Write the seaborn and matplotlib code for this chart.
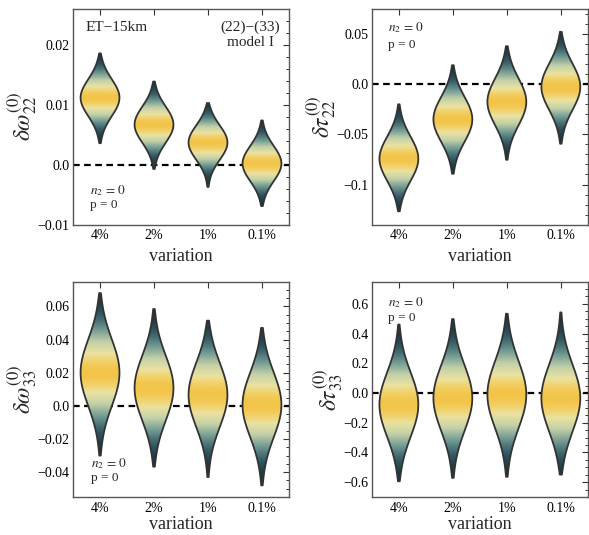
import numpy as np
import pandas as pd
import seaborn as sns
import matplotlib.pyplot as plt
from matplotlib.colors import LinearSegmentedColormap
from matplotlib.ticker import AutoMinorLocator, MultipleLocator, FuncFormatter
from statistics import NormalDist

variations = ["4%", "2%", "1%", "0.1%"]

# centre (widest point), lower tip and upper tip of each violin
w22_center = [0.0112, 0.0067, 0.0037, 0.0002]
w22_low = [0.0036, -0.0007, -0.0037, -0.0069]
w22_high = [0.0186, 0.0139, 0.0103, 0.0074]

t22_center = [-0.0743, -0.0350, -0.0175, -0.0025]
t22_low = [-0.1267, -0.0893, -0.0753, -0.0593]
t22_high = [-0.0200, 0.0190, 0.0380, 0.0523]

w33_center = [0.0200, 0.0107, 0.0066, 0.0006]
w33_low = [-0.0300, -0.0367, -0.0430, -0.0480]
w33_high = [0.0680, 0.0584, 0.0514, 0.0470]

t33_center = [-0.078, -0.034, -0.011, -0.034]
t33_low = [-0.594, -0.571, -0.564, -0.549]
t33_high = [0.460, 0.497, 0.533, 0.542]


def violin_table(center, low, high, n=400):
    # evenly spaced quantiles of a gaussian truncated at the drawn tips
    rows = []
    for lab, c, lo, hi in zip(variations, center, low, high):
        nd = NormalDist(c, (hi - lo) / 5.0)
        for q in np.linspace(nd.cdf(lo), nd.cdf(hi), n):
            rows.append((lab, nd.inv_cdf(min(max(q, 1e-12), 1 - 1e-12))))
    return pd.DataFrame(rows, columns=["variation", "value"])


def tick_fmt(v, pos):
    if abs(v) < 1e-12:
        return "0.0"
    return f"{v:g}".replace("-", "\u2212")


panels = [
    (violin_table(w22_center, w22_low, w22_high), r"$\delta\omega_{22}^{(0)}$", (-0.01, 0.026), 0.01),
    (violin_table(t22_center, t22_low, t22_high), r"$\delta\tau_{22}^{(0)}$", (-0.14, 0.075), 0.05),
    (violin_table(w33_center, w33_low, w33_high), r"$\delta\omega_{33}^{(0)}$", (-0.055, 0.075), 0.02),
    (violin_table(t33_center, t33_low, t33_high), r"$\delta\tau_{33}^{(0)}$", (-0.7, 0.75), 0.2),
]

cmap = LinearSegmentedColormap.from_list(
    "violin",
    [(0.0, "#142329"), (0.2, "#2f5560"), (0.42, "#6f9892"),
     (0.65, "#c2d0a8"), (0.85, "#ebe2a0"), (0.95, "#f2d066"), (1.0, "#f2c54a")])

sns.set_style("white")
plt.rcParams["font.family"] = ["Liberation Serif", "DejaVu Serif"]
plt.rcParams["mathtext.fontset"] = "stix"

fig, axes = plt.subplots(2, 2, figsize=(5.89, 5.35), dpi=100)
fig.subplots_adjust(left=0.124, right=0.998, top=0.983, bottom=0.071,
                    wspace=0.384, hspace=0.264)

for i, (ax, (df, ylabel, ylim, major)) in enumerate(zip(axes.flat, panels)):
    sns.violinplot(data=df, x="variation", y="value", order=variations, ax=ax,
                   inner=None, cut=0, density_norm="width", width=0.72,
                   bw_adjust=0.8, color="white", linewidth=1.3, linecolor="#333333")

    # gradient fill: colour follows the violin width (density)
    for coll in list(ax.collections):
        path = coll.get_paths()[0]
        v = path.vertices
        xc = 0.5 * (v[:, 0].min() + v[:, 0].max())
        hw = np.abs(v[:, 0] - xc)
        order = np.argsort(v[:, 1])
        ys, hws = v[order, 1], hw[order]
        gy = np.linspace(ys.min(), ys.max(), 400)
        r = np.interp(gy, ys, hws) / hws.max()
        im = ax.imshow(r[:, None], cmap=cmap, vmin=0, vmax=1, origin="lower",
                       extent=[v[:, 0].min(), v[:, 0].max(), ys.min(), ys.max()],
                       aspect="auto", interpolation="bilinear", zorder=1.5)
        im.set_clip_path(path, coll.get_transform())
        coll.set_facecolor("none")
        coll.set_zorder(2)

    ax.axhline(0, color="black", ls=(0, (3, 2)), lw=1.6, zorder=1)
    ax.set_xlim(-0.5, 3.5)
    ax.set_ylim(*ylim)
    ax.yaxis.set_major_locator(MultipleLocator(major))
    ax.yaxis.set_minor_locator(AutoMinorLocator())
    ax.yaxis.set_major_formatter(FuncFormatter(tick_fmt))
    ax.tick_params(axis="both", which="both", direction="in", top=True, right=True,
                   labelsize=10, colors="#333333", labelcolor="black")
    ax.tick_params(which="major", length=4, width=0.8)
    ax.tick_params(which="minor", length=2.5, width=0.7)
    ax.tick_params(axis="y", which="major", pad=2.5)
    ax.tick_params(axis="x", which="minor", top=False, bottom=False)
    for sp in ax.spines.values():
        sp.set_color("#555555")
        sp.set_linewidth(1.0)
    ax.set_xlabel("variation", fontsize=13, labelpad=4 if i < 2 else 1)
    ax.set_ylabel(ylabel, fontsize=17, labelpad=-1)

ax1, ax2, ax3, ax4 = axes.flat
ax1.text(0.056, 0.916, "ET\u221215km", transform=ax1.transAxes, fontsize=11, va="center")
ax1.text(0.82, 0.916, "(22)\u2212(33)", transform=ax1.transAxes, fontsize=11, va="center", ha="center")
ax1.text(0.82, 0.847, "model I", transform=ax1.transAxes, fontsize=11, va="center", ha="center")

for ax, (x, y1, y2) in zip(axes.flat, [(0.079, 0.158, 0.09), (0.074, 0.912, 0.833),
                                       (0.083, 0.153, 0.088), (0.074, 0.903, 0.829)]):
    ax.text(x, y1, r"$n_2\,=\,0$", transform=ax.transAxes, fontsize=9.5, va="center")
    ax.text(x, y2, "p = 0", transform=ax.transAxes, fontsize=9.5, va="center")

fig.savefig("out.png", dpi=100)
